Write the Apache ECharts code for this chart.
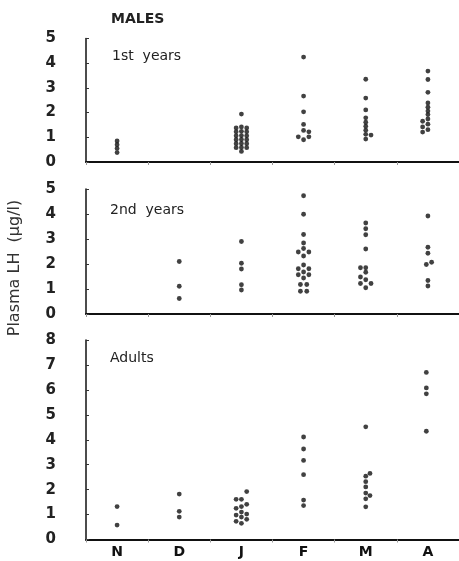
<!DOCTYPE html>
<html><head><meta charset="utf-8">
<script src="https://cdn.jsdelivr.net/npm/echarts@6/dist/echarts.min.js"></script>
<style>html,body{margin:0;padding:0;background:#fff}#c{width:459px;height:561px}</style>
</head><body><div id="c"></div>
<script>
// Months (categories)
const months = ['N', 'D', 'J', 'F', 'M', 'A'];
const panelTitles = ['1st  years', '2nd  years', 'Adults'];
const yMaxes = [5, 5, 8];
const yTitle = 'Plasma LH  (\u00b5g/l)';
const mainTitle = 'MALES';

// Rows: [month index, beeswarm column, plasma LH value (µg/l)]
const firstYears = [
  [0,0,0.85],[0,0,0.70],[0,0,0.55],[0,0,0.38],
  [2,0,1.94],
  [2,-1,1.38],[2,-1,1.22],[2,-1,1.06],[2,-1,0.90],[2,-1,0.74],[2,-1,0.58],
  [2,0,1.42],[2,0,1.24],[2,0,1.07],[2,0,0.91],[2,0,0.75],[2,0,0.59],[2,0,0.43],
  [2,1,1.38],[2,1,1.22],[2,1,1.06],[2,1,0.90],[2,1,0.74],[2,1,0.58],
  [3,0,4.25],[3,0,2.67],[3,0,2.03],[3,0,1.52],[3,0,1.28],[3,0,0.90],
  [3,1,1.22],[3,1,1.02],[3,-1,1.02],
  [4,0,3.35],[4,0,2.59],[4,0,2.11],[4,0,1.79],[4,0,1.61],[4,0,1.45],[4,0,1.29],[4,0,1.12],[4,0,0.93],
  [4,1,1.09],
  [5,0,3.68],[5,0,3.34],[5,0,2.82],[5,0,2.39],[5,0,2.22],[5,0,2.06],[5,0,1.92],[5,0,1.74],[5,0,1.53],[5,0,1.31],
  [5,-1,1.65],[5,-1,1.42],[5,-1,1.21]
];
const secondYears = [
  [1,0,2.10],[1,0,1.11],[1,0,0.62],
  [2,0,2.90],[2,0,2.03],[2,0,1.80],[2,0,1.17],[2,0,0.96],
  [3,0,4.73],[3,0,3.99],[3,0,3.18],[3,0,2.84],[3,0,2.62],[3,0,2.32],[3,0,1.96],[3,0,1.68],[3,0,1.44],
  [3,-1,2.48],[3,-1,1.81],[3,-1,1.57],[3,1,2.48],[3,1,1.81],[3,1,1.57],
  [3,-0.6,1.18],[3,-0.6,0.91],[3,0.6,1.18],[3,0.6,0.91],
  [4,0,3.64],[4,0,3.41],[4,0,3.17],[4,0,2.60],[4,0,1.85],[4,0,1.67],[4,0,1.37],[4,0,1.05],
  [4,-1,1.85],[4,-1,1.48],[4,-1,1.22],[4,1,1.22],
  [5,0,3.92],[5,0,2.67],[5,0,2.43],[5,0,1.34],[5,0,1.12],[5,-0.3,1.98],[5,0.7,2.07]
];
const adults = [
  [0,0,1.32],[0,0,0.58],
  [1,0,1.82],[1,0,1.13],[1,0,0.90],
  [2,0,1.61],[2,0,1.32],[2,0,1.10],[2,0,0.90],[2,0,0.65],
  [2,-1,1.61],[2,-1,1.25],[2,-1,0.98],[2,-1,0.73],
  [2,1,1.92],[2,1,1.41],[2,1,1.02],[2,1,0.81],
  [3,0,4.11],[3,0,3.63],[3,0,3.17],[3,0,2.60],[3,0,1.58],[3,0,1.36],
  [4,0,4.52],[4,0,2.54],[4,0,2.32],[4,0,2.11],[4,0,1.86],[4,0,1.63],[4,0,1.31],
  [4,0.8,2.65],[4,0.8,1.76],
  [5,-0.3,6.70],[5,-0.3,6.08],[5,-0.3,5.84],[5,-0.3,4.34]
];
const panels = [firstYears, secondYears, adults];

// ---- layout / style ----
const COL = 0.085;
const FONT = 'DejaVu Sans';
const gridBoxes = [
  {top: 38.5, height: 123.5},
  {top: 189, height: 125},
  {top: 340, height: 199.5}
];

const grid = [], xAxis = [], yAxis = [], series = [];
panels.forEach((rows, i) => {
  grid.push({left: 86, right: -4, top: gridBoxes[i].top, height: gridBoxes[i].height, containLabel: false});
  xAxis.push({
    type: 'category', gridIndex: i, data: months, boundaryGap: true, position: 'bottom',
    axisLine: {show: true, lineStyle: {color: '#111', width: 2}},
    axisTick: {show: true, length: 3, lineStyle: {color: '#999', width: 1}},
    axisLabel: {show: i === 2, color: '#111', fontFamily: FONT, fontWeight: 'bold', fontSize: 14, margin: 6},
    splitLine: {show: false}
  });
  xAxis.push({type: 'value', gridIndex: i, min: 0, max: 6, show: false, position: 'top'});
  yAxis.push({
    type: 'value', gridIndex: i, min: 0, max: yMaxes[i], interval: 1, offset: 25,
    axisLine: {show: true, lineStyle: {color: '#111', width: 1.5}},
    axisTick: {show: true, inside: true, length: 3, lineStyle: {color: '#333', width: 1}},
    axisLabel: {color: '#222', fontFamily: FONT, fontWeight: 'bold', fontSize: 15, margin: 5},
    splitLine: {show: false}
  });
  series.push({
    type: 'scatter', xAxisIndex: 2 * i + 1, yAxisIndex: i,
    symbol: 'circle', symbolSize: 4.8, silent: true,
    itemStyle: {color: '#111'},
    data: rows.map(r => [r[0] + 0.5 + r[1] * COL, r[2]])
  });
});

const graphic = [
  {type: 'text', left: 111, top: 12, style: {text: mainTitle, font: 'bold 14px "DejaVu Sans"', fill: '#222'}},
  {type: 'text', left: 112, top: 49, style: {text: panelTitles[0], font: '14px "DejaVu Sans"', fill: '#222'}},
  {type: 'text', left: 110, top: 203, style: {text: panelTitles[1], font: '14px "DejaVu Sans"', fill: '#222'}},
  {type: 'text', left: 110, top: 351, style: {text: panelTitles[2], font: '14px "DejaVu Sans"', fill: '#222'}},
  {type: 'text', x: 15, y: 268, rotation: Math.PI / 2,
   style: {text: yTitle, font: '16px "DejaVu Sans"', fill: '#333', align: 'center', verticalAlign: 'middle'}}
];

const chart = echarts.init(document.getElementById('c'), null, {renderer: 'canvas'});
chart.setOption({animation: false, backgroundColor: '#fff', grid, xAxis, yAxis, series, graphic});
</script>
</body></html>
